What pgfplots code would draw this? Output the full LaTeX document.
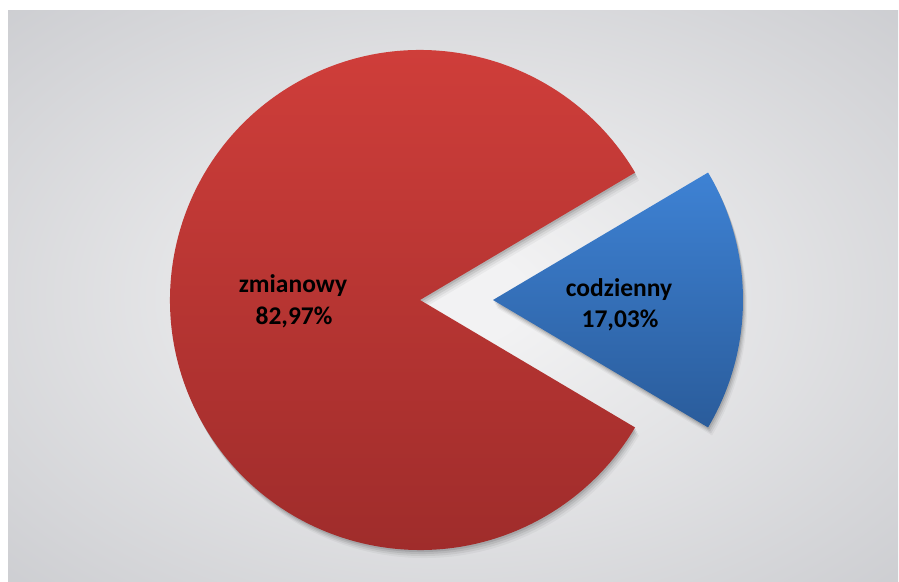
\documentclass[border=0pt]{standalone}
\usepackage{pgfplots}
\pgfplotsset{compat=1.18}
\usepackage{fontspec}
\setmainfont{Carlito}
\definecolor{redtop}{RGB}{210,63,59}
\definecolor{redbot}{RGB}{156,43,42}
\definecolor{bluetop}{RGB}{62,130,212}
\definecolor{bluebot}{RGB}{42,92,155}
\definecolor{bgin}{RGB}{242,242,243}
\definecolor{bgmid}{RGB}{200,201,205}
\definecolor{bgout}{RGB}{176,177,181}
\pgfdeclareradialshading{bgshade}{\pgfpoint{0bp}{0bp}}{color(0bp)=(bgin); color(4bp)=(bgin); color(40bp)=(bgmid); color(66bp)=(bgout); color(100bp)=(bgout)}
\def\valA{82.97}
\def\valB{17.03}
\pgfmathsetmacro\half{3.6*\valB/2}
\pgfmathsetmacro\redend{360-\half}
\newcommand\redpath{(axis cs:420,281) -- +(\half:250pt) arc[start angle=\half,end angle=\redend,radius=250pt] -- cycle}
\newcommand\bluepath{(axis cs:493,281) -- +(-\half:250pt) arc[start angle=-\half,end angle=\half,radius=250pt] -- cycle}
\begin{document}
\begin{tikzpicture}
\begin{axis}[x=1pt,y=1pt,xmin=0,xmax=899,ymin=0,ymax=581,hide axis,clip=false,scale only axis]
\coordinate (bl) at (axis cs:0,0);
\coordinate (tr) at (axis cs:899,581);
\fill[white] (axis cs:0,0) rectangle (axis cs:899,581);
\shade[shading=bgshade,shading angle=0] (axis cs:8,-2) rectangle (axis cs:898,570);
% shadows
\fill[black,opacity=0.10,xshift=1pt,yshift=-2pt] \redpath;
\fill[black,opacity=0.08,xshift=2pt,yshift=-4pt] \redpath;
\fill[black,opacity=0.06,xshift=3pt,yshift=-6pt] \redpath;
\fill[black,opacity=0.04,xshift=4pt,yshift=-8pt] \redpath;
\fill[black,opacity=0.10,xshift=1pt,yshift=-2pt] \bluepath;
\fill[black,opacity=0.08,xshift=2pt,yshift=-4pt] \bluepath;
\fill[black,opacity=0.06,xshift=3pt,yshift=-6pt] \bluepath;
\fill[black,opacity=0.04,xshift=4pt,yshift=-8pt] \bluepath;
% slices
\shade[top color=redtop,bottom color=redbot] \redpath;
\shade[top color=bluetop,bottom color=bluebot] \bluepath;
% labels
\node[anchor=base,font=\fontsize{25.5}{30}\selectfont\bfseries] at (axis cs:293,288.3) {zmianowy};
\node[anchor=base,font=\fontsize{25.5}{30}\selectfont\bfseries] at (axis cs:294,256) {82,97\%};
\node[anchor=base,font=\fontsize{25.5}{30}\selectfont\bfseries] at (axis cs:619,284) {codzienny};
\node[anchor=base,font=\fontsize{25.5}{30}\selectfont\bfseries] at (axis cs:620,253) {17,03\%};
\end{axis}
\pgfresetboundingbox
\useasboundingbox (bl) rectangle (tr);
\end{tikzpicture}
\end{document}
